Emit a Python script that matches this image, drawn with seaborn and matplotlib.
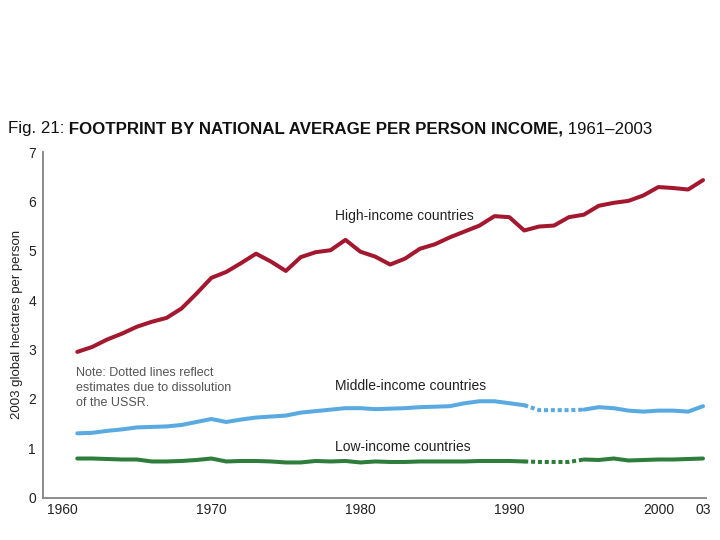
import pandas as pd
import matplotlib
matplotlib.use("Agg")
import matplotlib.pyplot as plt
import seaborn as sns

# ==========================
# DATA
# ==========================

years = list(range(1961, 2004))

high_income = [2.95, 3.05, 3.20, 3.32, 3.46, 3.56, 3.64, 3.83, 4.13, 4.45,
               4.57, 4.75, 4.94, 4.78, 4.59, 4.87, 4.97, 5.01, 5.22, 4.98,
               4.88, 4.72, 4.84, 5.04, 5.13, 5.27, 5.39, 5.51, 5.70, 5.68,
               5.41, 5.49, 5.51, 5.68, 5.73, 5.91, 5.97, 6.01, 6.12, 6.29,
               6.27, 6.24, 6.43]

middle_income = [1.30, 1.31, 1.35, 1.38, 1.42, 1.43, 1.44, 1.47, 1.53, 1.59,
                 1.53, 1.58, 1.62, 1.64, 1.66, 1.72, 1.75, 1.78, 1.81, 1.81,
                 1.79, 1.80, 1.81, 1.83, 1.84, 1.85, 1.91, 1.95, 1.95, 1.91,
                 1.87, 1.77, 1.77, 1.77, 1.78, 1.83, 1.81, 1.76, 1.74, 1.76,
                 1.76, 1.74, 1.85]

low_income = [0.79, 0.79, 0.78, 0.77, 0.77, 0.73, 0.73, 0.74, 0.76, 0.79,
              0.73, 0.74, 0.74, 0.73, 0.71, 0.71, 0.74, 0.73, 0.74, 0.71,
              0.73, 0.72, 0.72, 0.73, 0.73, 0.73, 0.73, 0.74, 0.74, 0.74,
              0.73, 0.72, 0.72, 0.72, 0.77, 0.76, 0.79, 0.75, 0.76, 0.77,
              0.77, 0.78, 0.79]

# years covered by USSR-dissolution estimates (drawn dotted)
est_start, est_end = 1991, 1995

xticks = [1960, 1970, 1980, 1990, 2000, 2003]
xtick_labels = ["1960", "1970", "1980", "1990", "2000", "03"]
yticks = [0, 1, 2, 3, 4, 5, 6, 7]

df = pd.DataFrame({"year": years, "high": high_income,
                   "middle": middle_income, "low": low_income})

# ==========================
# STYLE
# ==========================

sns.set_style("white")
plt.rcParams["font.family"] = ["Liberation Sans", "DejaVu Sans"]

RED = "#a3182f"
BLUE = "#5aaae2"
GREEN = "#2f7d3b"
GRAY = "#8c8c8c"

fig = plt.figure(figsize=(7.2, 5.4), dpi=100)
ax = fig.add_axes([43 / 720, 1 - 497.5 / 540, 663 / 720, 345.5 / 540])

lw = 2.9

# high income: solid all the way
sns.lineplot(data=df, x="year", y="high", color=RED, lw=lw, ax=ax)

# middle and low: solid / dotted / solid
before = df[df["year"] <= est_start]
during = df[(df["year"] >= est_start) & (df["year"] <= est_end)]
after = df[df["year"] >= est_end]

for col, c in [("middle", BLUE), ("low", GREEN)]:
    sns.lineplot(data=before, x="year", y=col, color=c, lw=lw, ax=ax)
    sns.lineplot(data=during, x="year", y=col, color=c, lw=lw, ax=ax,
                 linestyle=(0, (1.0, 0.7)))
    sns.lineplot(data=after, x="year", y=col, color=c, lw=lw, ax=ax)

# ==========================
# AXES
# ==========================

ax.set_xlim(1958.7, 2003.2)
ax.set_ylim(0, 7)
ax.set_xticks(xticks)
ax.set_xticklabels(xtick_labels)
ax.set_yticks(yticks)
ax.set_xlabel("")
ax.set_ylabel("2003 global hectares per person", fontsize=9.5, color="#222222",
              labelpad=4)

for s in ["top", "right"]:
    ax.spines[s].set_visible(False)
for s in ["left", "bottom"]:
    ax.spines[s].set_color(GRAY)
    ax.spines[s].set_linewidth(1.4)

ax.tick_params(axis="y", direction="in", length=9.5, width=1.4, color=GRAY,
               pad=5, labelsize=10, labelcolor="#222222")
ax.tick_params(axis="x", direction="in", length=6, width=1.2, color=GRAY,
               pad=4, labelsize=10, labelcolor="#222222")

# ==========================
# LABELS
# ==========================

ax.text(1978.3, 5.70, "High-income countries", fontsize=10, color="#222222",
        va="center")
ax.text(1978.3, 2.26, "Middle-income countries", fontsize=10, color="#222222",
        va="center")
ax.text(1978.3, 1.02, "Low-income countries", fontsize=10, color="#222222",
        va="center")
ax.text(1960.9, 2.64, "Note: Dotted lines reflect\nestimates due to dissolution\nof the USSR.",
        fontsize=9, color="#555555", va="top", linespacing=1.3)

# title in three pieces: regular / bold / regular
fig.canvas.draw()
renderer = fig.canvas.get_renderer()
x0 = 8 / 720
ty = 1 - 133.5 / 540
parts = [("Fig. 21:", "normal"), (" FOOTPRINT BY NATIONAL AVERAGE PER PERSON INCOME,", "bold"),
         (" 1961\u20132003", "normal")]
for txt, w in parts:
    t = fig.text(x0, ty, txt, fontsize=12.15, fontweight=w, color="#111111",
                 va="baseline", ha="left")
    bb = t.get_window_extent(renderer=renderer)
    x0 += bb.width / fig.bbox.width

fig.savefig("out.png", dpi=100)
